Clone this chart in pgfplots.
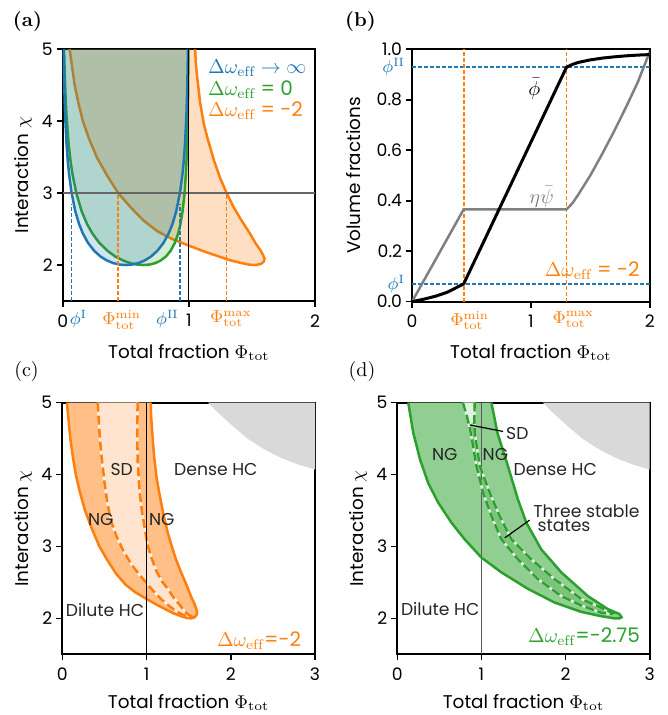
\RequirePackage{fix-cm}
\documentclass[border=0pt]{standalone}
\usepackage{fontspec}
\usepackage{pgfplots}
\pgfplotsset{compat=1.18}
\newfontfamily\pop{Poppins}
\definecolor{mplblue}{HTML}{1F77B4}
\definecolor{mplorange}{HTML}{FF7F0E}
\definecolor{mplgreen}{HTML}{2CA02C}
\newcommand\tf{\pop\fontsize{8.6}{10}\selectfont}
\newcommand\alf{\pop\fontsize{9.2}{11}\selectfont}
\newcommand\lf{\pop\fontsize{10}{12}\selectfont}

% binodal, Delta omega -> infinity
\pgfplotstableread{
x y
0.0072 5.0
0.0085 4.84
0.01 4.689
0.015 4.314
0.02 4.054
0.03 3.698
0.04 3.454
0.05 3.272
0.07 3.008
0.1 2.747
0.13 2.569
0.16 2.439
0.2 2.310
0.25 2.197
0.3 2.118
0.35 2.064
0.4 2.027
0.45 2.007
0.5 2.0
0.55 2.007
0.6 2.027
0.65 2.064
0.7 2.118
0.75 2.197
0.8 2.310
0.84 2.439
0.87 2.569
0.9 2.747
0.93 3.008
0.95 3.272
0.96 3.454
0.97 3.698
0.98 4.054
0.985 4.314
0.99 4.689
0.9915 4.84
0.9928 5.0
}\tblue
% Delta omega = 0
\pgfplotstableread{
x y
0.0112 5.0
0.0132 4.84
0.0155 4.689
0.0233 4.314
0.0310 4.054
0.0463 3.698
0.0615 3.454
0.0766 3.272
0.1065 3.008
0.1504 2.747
0.1933 2.569
0.2353 2.439
0.2896 2.310
0.355 2.197
0.4176 2.118
0.4774 2.064
0.5344 2.027
0.5886 2.007
0.64 2.0
0.6886 2.007
0.7344 2.027
0.7774 2.064
0.8176 2.118
0.855 2.197
0.8896 2.310
0.9153 2.439
0.9333 2.569
0.9504 2.747
0.9665 3.008
0.9766 3.272
0.9815 3.454
0.9863 3.698
0.991 4.054
0.9933 4.314
0.9955 4.689
0.9962 4.84
0.9968 5.0
}\tgreen
% Delta omega = -2, binodal
\pgfplotstableread{
x y
0.055 5.0
0.075 4.75
0.095 4.5
0.125 4.25
0.16 4.0
0.21 3.75
0.27 3.5
0.35 3.25
0.44 3.0
0.54 2.8
0.64 2.62
0.75 2.47
0.87 2.36
1.0 2.27
1.12 2.19
1.22 2.13
1.32 2.07
1.41 2.03
1.48 2.005
1.53 2.0
1.57 2.015
1.595 2.05
1.60 2.09
1.59 2.13
1.57 2.2
1.53 2.3
1.48 2.45
1.41 2.64
1.35 2.82
1.30 3.0
1.25 3.2
1.20 3.45
1.15 3.75
1.12 3.95
1.09 4.25
1.07 4.55
1.055 4.8
1.05 5.0
}\torange
% Delta omega = -2, spinodal
\pgfplotstableread{
x y
0.42 5.0
0.435 4.7
0.45 4.45
0.47 4.2
0.50 3.9
0.535 3.6
0.58 3.35
0.64 3.15
0.72 2.95
0.82 2.75
0.92 2.6
1.0 2.49
1.08 2.38
1.17 2.27
1.26 2.18
1.35 2.10
1.43 2.05
1.49 2.025
1.53 2.03
1.50 2.05
1.45 2.10
1.40 2.18
1.32 2.29
1.26 2.40
1.18 2.52
1.12 2.65
1.06 2.84
1.01 3.03
0.98 3.25
0.95 3.45
0.922 3.72
0.91 3.9
0.895 4.2
0.89 4.5
0.894 5.0
}\tospin
% Delta omega = -2.75, binodal
\pgfplotstableread{
x y
0.13 5.0
0.19 4.58
0.27 4.21
0.368 3.88
0.486 3.61
0.644 3.33
0.80 3.10
1.0 2.845
1.237 2.64
1.553 2.41
1.87 2.22
2.186 2.09
2.423 2.03
2.58 2.0
2.64 2.0
2.665 2.015
2.64 2.06
2.50 2.13
2.265 2.31
1.949 2.64
1.711 2.96
1.534 3.33
1.435 3.65
1.316 4.114
1.19 4.58
1.119 5.0
}\tgbin
% Delta omega = -2.75, spinodal
\pgfplotstableread{
x y
0.78 5.0
0.83 4.8
0.874 4.58
0.94 4.12
1.02 3.745
1.12 3.42
1.237 3.10
1.435 2.82
1.672 2.545
1.949 2.31
2.186 2.18
2.42 2.08
2.54 2.06
2.56 2.07
2.42 2.15
2.186 2.27
1.87 2.545
1.593 2.82
1.356 3.10
1.217 3.42
1.1 3.745
0.98 4.12
0.92 4.58
0.915 4.8
0.92 5.0
}\tgspin
% SD patch near the top
\pgfplotstableread{
x y
0.785 5.0
0.83 4.8
0.86 4.69
0.895 4.72
0.915 4.85
0.92 5.0
}\tgsd
% grey region
\pgfplotstableread{
x y
1.73 5.0
1.85 4.86
2.0 4.70
2.2 4.50
2.4 4.35
2.6 4.23
2.8 4.14
3.0 4.07
3.0 5.0
}\tgrey
% panel (b)
\pgfplotstableread{
x y
0 0
0.1 0.010
0.2 0.022
0.3 0.038
0.435 0.0707
1.30 0.929
1.35 0.940
1.40 0.948
1.5 0.958
1.6 0.965
1.7 0.970
1.8 0.974
1.9 0.977
2.0 0.979
}\tphi
\pgfplotstableread{
x y
0 0
0.435 0.366
1.30 0.366
1.35 0.39
1.40 0.425
1.5 0.50
1.6 0.585
1.7 0.675
1.8 0.77
1.9 0.87
2.0 0.99
}\tpsi

\pgfplotsset{
  panel/.style={
    scale only axis, anchor=south west, clip mode=individual,
    axis line style={line width=0.9pt},
    every tick/.style={black, line width=0.8pt},
    major tick length=3pt, tick align=outside,
    xtick pos=bottom, ytick pos=left,
    tick label style={font=\tf},
    xticklabel style={inner ysep=3.5pt},
    yticklabel style={inner xsep=1.8pt},
    label style={font=\alf},
    /pgf/number format/assume math mode=true,
    xlabel={Total fraction $\Phi_{\mathrm{tot}}$},
  },
  chi/.style={xmin=0, xmax=3, ymin=1.5, ymax=5, xtick={0,1,2,3}, ytick={2,3,4,5},
    ylabel={Interaction $\chi$}},
  guide/.style={line width=0.8pt, dash pattern=on 2pt off 1pt},
}

\begin{document}
\begin{tikzpicture}
\path[use as bounding box] (0,0) rectangle (333.5pt,357.5pt);

% (a)
\begin{axis}[panel, at={(31.35pt,207pt)}, width=126.15pt, height=125.85pt,
  xmin=0, xmax=2, ymin=1.5, ymax=5, xtick={0,1,2}, ytick={2,3,4,5},
  ylabel={Interaction $\chi$},
  xlabel style={at={(axis description cs:0.5,-0.2265)}, anchor=base},
  ylabel style={at={(axis description cs:-0.137,0.5)}, anchor=base}]
\addplot[draw=none, fill=mplorange, fill opacity=0.25] table {\torange} -- cycle;
\addplot[mplorange, line width=1.25pt] table {\torange};
\addplot[draw=none, fill=mplgreen, fill opacity=0.2] table {\tgreen} -- cycle;
\addplot[mplgreen, line width=1.25pt] table {\tgreen};
\addplot[draw=none, fill=mplblue, fill opacity=0.2] table {\tblue} -- cycle;
\addplot[mplblue, line width=1.25pt] table {\tblue};
\addplot[black!60, line width=0.75pt] coordinates {(0,3) (2,3)};
\addplot[black, line width=0.6pt] coordinates {(1,1.5) (1,5)};
\addplot[mplblue, guide] coordinates {(0.0707,1.5) (0.0707,2.85)};
\addplot[mplblue, guide] coordinates {(0.929,1.5) (0.929,2.85)};
\addplot[mplorange, guide] coordinates {(0.44,1.5) (0.44,3)};
\addplot[mplorange, guide] coordinates {(1.30,1.5) (1.30,3)};
\node[anchor=north, text=mplblue, font=\tf, inner sep=0pt] at (axis cs:0.125,1.5) [yshift=-4.6pt] {$\phi^{\mathrm{I}}$};
\node[anchor=north, text=mplblue, font=\tf, inner sep=0pt] at (axis cs:0.83,1.5) [yshift=-4.6pt] {$\phi^{\mathrm{II}}$};
\node[anchor=north, text=mplorange, font=\tf, inner sep=0pt] at (axis cs:0.467,1.5) [yshift=-4.6pt] {$\Phi_{\mathrm{tot}}^{\mathrm{min}}$};
\node[anchor=north, text=mplorange, font=\tf, inner sep=0pt] at (axis cs:1.333,1.5) [yshift=-4.6pt] {$\Phi_{\mathrm{tot}}^{\mathrm{max}}$};
\node[anchor=base west, text=mplblue, font=\lf, inner sep=0pt] at (axis cs:1.15,4.666) {$\Delta\omega_{\mathrm{eff}}\rightarrow\infty$};
\node[anchor=base west, text=mplgreen, font=\lf, inner sep=0pt] at (axis cs:1.15,4.364) {$\Delta\omega_{\mathrm{eff}}$ = 0};
\node[anchor=base west, text=mplorange, font=\lf, inner sep=0pt] at (axis cs:1.15,4.063) {$\Delta\omega_{\mathrm{eff}}$ = -2};
\end{axis}

% (b)
\begin{axis}[panel, at={(206pt,206.65pt)}, width=118.85pt, height=126.2pt,
  xmin=0, xmax=2, ymin=0, ymax=1, xtick={0,1,2}, ytick={0,0.2,0.4,0.6,0.8,1},
  yticklabel style={/pgf/number format/.cd, fixed, fixed zerofill, precision=1},
  ylabel={Volume fractions},
  xlabel style={at={(axis description cs:0.5,-0.2246)}, anchor=base},
  ylabel style={at={(axis description cs:-0.2146,0.5)}, anchor=base}]
\addplot[mplblue, guide] coordinates {(0,0.0707) (2,0.0707)};
\addplot[mplblue, guide] coordinates {(0,0.929) (2,0.929)};
\addplot[mplorange, guide] coordinates {(0.435,0) (0.435,1)};
\addplot[mplorange, guide] coordinates {(1.30,0) (1.30,1)};
\addplot[gray, line width=1.25pt] table {\tpsi};
\addplot[black, line width=1.5pt] table {\tphi};
\node[font=\lf] at (axis cs:1.03,0.844) {$\bar\phi$};
\node[font=\lf, text=gray] at (axis cs:1.09,0.416) {$\eta\bar\psi$};
\node[anchor=base east, text=mplorange, font=\lf, inner sep=0pt] at (axis cs:1.918,0.099) {$\Delta\omega_{\mathrm{eff}}$ = -2};
\node[anchor=east, text=mplblue, font=\tf] at (axis cs:0,0.929) {$\phi^{\mathrm{II}}$};
\node[anchor=east, text=mplblue, font=\tf] at (axis cs:0,0.0707) {$\phi^{\mathrm{I}}$};
\node[anchor=north, text=mplorange, font=\tf, inner sep=0pt] at (axis cs:0.485,0) [yshift=-4.6pt] {$\Phi_{\mathrm{tot}}^{\mathrm{min}}$};
\node[anchor=north, text=mplorange, font=\tf, inner sep=0pt] at (axis cs:1.357,0) [yshift=-4.6pt] {$\Phi_{\mathrm{tot}}^{\mathrm{max}}$};
\end{axis}

% (c)
\begin{axis}[panel, chi, at={(31.15pt,30.35pt)}, width=126.35pt, height=125.8pt,
  xlabel style={at={(axis description cs:0.5,-0.2146)}, anchor=base},
  ylabel style={at={(axis description cs:-0.1345,0.5)}, anchor=base}]
\addplot[draw=none, fill=black!15] table {\tgrey} -- cycle;
\addplot[draw=none, fill=mplorange!50!white] table {\torange} -- cycle;
\addplot[draw=none, fill=mplorange!20!white] table {\tospin} -- cycle;
\addplot[mplorange!12!white, line width=1.3pt] table {\tospin};
\addplot[mplorange, line width=1.3pt, dash pattern=on 4.5pt off 2pt] table {\tospin};
\addplot[mplorange, line width=1.25pt] table {\torange};
\addplot[black, line width=0.6pt] coordinates {(1,1.5) (1,5)};
\node[font=\tf, text=black!85] at (axis cs:0.705,4.064) {SD};
\node[font=\tf, text=black!85] at (axis cs:1.823,4.064) {Dense HC};
\node[font=\tf, text=black!85] at (axis cs:0.457,3.369) {NG};
\node[font=\tf, text=black!85] at (axis cs:1.181,3.369) {NG};
\node[font=\tf, text=black!85] at (axis cs:0.507,2.117) {Dilute HC};
\node[anchor=base east, text=mplorange, font=\lf, inner sep=0pt] at (axis cs:2.84,1.606) {$\Delta\omega_{\mathrm{eff}}$=-2};
\end{axis}

% (d)
\begin{axis}[panel, chi, at={(198.65pt,30.35pt)}, width=126.2pt, height=125.8pt,
  xlabel style={at={(axis description cs:0.5,-0.2146)}, anchor=base},
  ylabel style={at={(axis description cs:-0.1347,0.5)}, anchor=base}]
\addplot[draw=none, fill=black!15] table {\tgrey} -- cycle;
\addplot[draw=none, fill=mplgreen!52!white] table {\tgbin} -- cycle;
\addplot[draw=none, fill=mplgreen!62!white] table {\tgspin} -- cycle;
\addplot[draw=none, fill=mplgreen!14!white] table {\tgsd} -- cycle;
\addplot[black!65, line width=0.9pt] coordinates {(1,1.5) (1,5)};
\addplot[mplgreen!14!white, line width=1.2pt] table {\tgspin};
\addplot[mplgreen, line width=1.2pt, dash pattern=on 4.5pt off 1.8pt] table {\tgspin};
\addplot[mplgreen, line width=1.25pt] table {\tgbin};
\draw[black, line width=0.6pt] (axis cs:0.862,4.69) -- (axis cs:1.257,4.6);
\draw[black, line width=0.6pt] (axis cs:1.277,3.12) -- (axis cs:1.573,3.366);
\node[font=\tf, text=black!85] at (axis cs:1.427,4.575) {SD};
\node[font=\tf, text=black!85] at (axis cs:0.565,4.276) {NG};
\node[font=\tf, text=black!85] at (axis cs:1.166,4.276) {NG};
\node[font=\tf, text=black!85] at (axis cs:1.877,4.068) {Dense HC};
\node[anchor=base west, font=\tf, text=black!85, inner sep=0pt] at (axis cs:1.613,3.40) {Three stable};
\node[anchor=base west, font=\tf, text=black!85, inner sep=0pt] at (axis cs:1.664,3.214) {states};
\node[font=\tf, text=black!85] at (axis cs:0.51,2.13) {Dilute HC};
\node[anchor=base east, text=mplgreen, font=\lf, inner sep=0pt] at (axis cs:2.889,1.66) {$\Delta\omega_{\mathrm{eff}}$=-2.75};
\end{axis}

\node[font=\rmfamily\bfseries\fontsize{10}{12}\selectfont] at (13.75pt,346.75pt) {(a)};
\node[font=\rmfamily\bfseries\fontsize{10}{12}\selectfont] at (180.25pt,346.75pt) {(b)};
\node[font=\rmfamily\fontsize{10}{12}\selectfont] at (13.25pt,171.5pt) {(c)};
\node[font=\rmfamily\fontsize{10}{12}\selectfont] at (181pt,171.5pt) {(d)};
\end{tikzpicture}
\end{document}
